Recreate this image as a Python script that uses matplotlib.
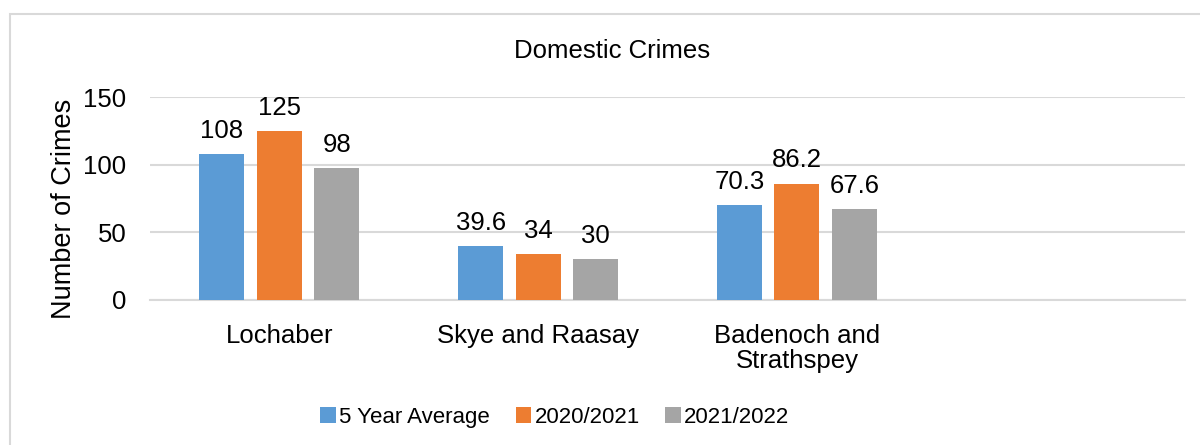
import matplotlib
matplotlib.use("Agg")
import matplotlib.pyplot as plt
import numpy as np
from matplotlib.patches import Rectangle

categories = ["Lochaber", "Skye and Raasay", "Badenoch and\nStrathspey"]
series_names = ["5 Year Average", "2020/2021", "2021/2022"]
avg5 = [108, 39.6, 70.3]
y2021 = [125, 34, 86.2]
y2022 = [98, 30, 67.6]
labels5 = ["108", "39.6", "70.3"]
labels21 = ["125", "34", "86.2"]
labels22 = ["98", "30", "67.6"]
colors = ["#5B9BD5", "#ED7D31", "#A5A5A5"]

plt.rcParams['font.family'] = ['Liberation Sans', 'DejaVu Sans']

fig = plt.figure(figsize=(12, 4.45), dpi=100)
ax = fig.add_axes([0.125, 0.326, 0.8625, 0.455])

x = np.arange(len(categories))
w = 0.174
pitch = 0.222
data = [avg5, y2021, y2022]
labs = [labels5, labels21, labels22]
for i, (vals, name, c, lb) in enumerate(zip(data, series_names, colors, labs)):
    bars = ax.bar(x + (i - 1) * pitch, vals, w, color=c, label=name, zorder=3)
    ax.bar_label(bars, labels=lb, padding=8, fontsize=18.5, color="#000000")

ax.set_xlim(-0.5, 3.5)
ax.set_ylim(0, 150)
ax.set_yticks([0, 50, 100, 150])
ax.set_xticks(x)
ax.set_xticklabels(categories, fontsize=18.5, linespacing=1.1)
ax.tick_params(axis='y', labelsize=18.5, length=0, pad=17)
ax.tick_params(axis='x', length=0, pad=17)
ax.yaxis.grid(True, color="#D9D9D9", linewidth=1.5, zorder=0)
ax.set_axisbelow(True)
for s in ["top", "right", "left"]:
    ax.spines[s].set_visible(False)
ax.spines["bottom"].set_color("#D9D9D9")
ax.spines["bottom"].set_linewidth(1.5)

fig.text(0.053, 0.53, "Number of Crimes", rotation=90, ha="center", va="center", fontsize=19.5)
fig.text(0.51, 0.885, "Domestic Crimes", ha="center", va="center", fontsize=18.5)

leg = fig.legend(loc="center", bbox_to_anchor=(0.4625, 0.062), ncol=3, frameon=False,
                 fontsize=16, handlelength=0.7, handleheight=0.7, handletextpad=0.15,
                 columnspacing=1.15)

fig.patches.append(Rectangle((10 / 1200, -0.1), 1.2, 1 - 14 / 445 + 0.1,
                             transform=fig.transFigure, fill=False,
                             edgecolor="#D9D9D9", linewidth=1.5))

fig.savefig("out.png", dpi=100)
